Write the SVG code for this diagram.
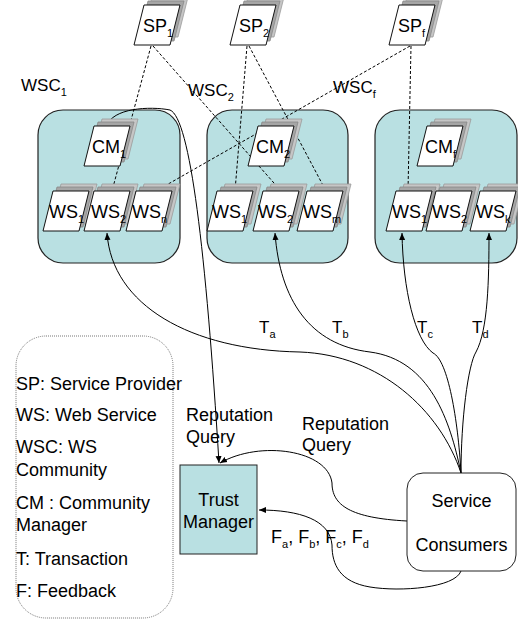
<svg xmlns="http://www.w3.org/2000/svg" width="518" height="625" viewBox="0 0 518 625">
<defs>
<style>
text{font-family:"Liberation Sans",Arial,sans-serif;fill:#000}
.t{font-size:18px}
.l{font-size:17px}
.s{font-size:11px}
.com{fill:#b9e0e2;stroke:#222;stroke-width:1.2}
.pg{fill:#fff;stroke:#111;stroke-width:1}
.sh1{fill:#a6a6a6;stroke:#888;stroke-width:0.8}
.sh2{fill:#c6c6c6;stroke:#9a9a9a;stroke-width:0.8}
.dash{fill:none;stroke:#000;stroke-width:1;stroke-dasharray:3,2}
.cur{fill:none;stroke:#000;stroke-width:1}
.arr{marker-end:url(#ah)}
</style>
<polygon id="pg" points="10,0 46,0 36,40 0,40"/>
<marker id="ah" markerWidth="8" markerHeight="8" refX="7" refY="4" orient="auto" markerUnits="userSpaceOnUse"><path d="M0,1 L7,4 L0,7 z" fill="#000"/></marker>
</defs>
<rect width="518" height="625" fill="#fff"/>

<!-- communities -->
<g id="wsc1"><rect class="com" x="38" y="110" width="142" height="153" rx="25"/><text x="21" y="91" class="l">WSC<tspan class="s" dy="5">1</tspan></text></g>
<g id="wsc2"><rect class="com" x="207" y="110" width="141" height="153" rx="25"/><text x="188" y="96" class="l">WSC<tspan class="s" dy="5">2</tspan></text></g>
<g id="wscf"><rect class="com" x="375" y="110" width="142" height="153" rx="25"/><text x="333" y="93" class="l">WSC<tspan class="s" dy="5">f</tspan></text></g>

<!-- legend -->
<g id="legend">
<rect x="16" y="336" width="157" height="282" rx="30" fill="none" stroke="#777" stroke-width="1" stroke-dasharray="1,1"/>
<text x="16" y="390" class="t">SP: Service Provider</text>
<text x="16" y="421" class="t">WS: Web Service</text>
<text x="16" y="453" class="t">WSC: WS</text>
<text x="16" y="476" class="t">Community</text>
<text x="16" y="509" class="t">CM : Community</text>
<text x="16" y="531" class="t">Manager</text>
<text x="16" y="565" class="t">T: Transaction</text>
<text x="16" y="597" class="t">F: Feedback</text>
</g>

<!-- connectors -->
<g id="connectors">
<line class="dash" x1="151" y1="46" x2="112" y2="191"/>
<line class="dash" x1="153" y1="46" x2="281" y2="191"/>
<line class="dash" x1="247" y1="46" x2="235" y2="191"/>
<line class="dash" x1="249" y1="46" x2="326" y2="191"/>
<line class="dash" x1="410" y1="46" x2="156" y2="191"/>
<line class="dash" x1="411" y1="46" x2="408" y2="191"/>
<path class="cur arr" d="M107,126 C112,108 150,106 170,110 C190,118 206,250 219,463"/>
<path class="cur arr" d="M461,473 C440,410 380,355 300,352 C190,350 112,305 107,233"/>
<path class="cur arr" d="M461,473 C450,420 430,360 370,352 C310,345 280,300 275,233"/>
<path class="cur arr" d="M461,473 C458,420 448,360 433,353 C415,340 403,290 402,233"/>
<path class="cur arr" d="M461,473 C461,420 468,365 476,352 C488,330 489,280 489,233"/>
<path class="cur arr" d="M407,521 C350,518 332,505 332,483 C328,450 260,440 220,463"/>
<path class="cur arr" d="M461,571 C455,588 400,592 370,587 C340,582 332,565 332,545 C330,520 300,510 259,510"/>
</g>

<!-- SP nodes -->
<g id="sp1"><use href="#pg" x="142" y="-3" class="sh2"/><use href="#pg" x="138" y="1" class="sh1"/><use href="#pg" x="134" y="5" class="pg"/><text x="143" y="32" class="t">SP<tspan class="s" dy="5">1</tspan></text></g>
<g id="sp2"><use href="#pg" x="238" y="-3" class="sh2"/><use href="#pg" x="234" y="1" class="sh1"/><use href="#pg" x="230" y="5" class="pg"/><text x="239" y="32" class="t">SP<tspan class="s" dy="5">2</tspan></text></g>
<g id="spf"><use href="#pg" x="397" y="-3" class="sh2"/><use href="#pg" x="393" y="1" class="sh1"/><use href="#pg" x="389" y="5" class="pg"/><text x="398" y="32" class="t">SP<tspan class="s" dy="5">f</tspan></text></g>

<!-- CM nodes -->
<g id="cm1"><use href="#pg" x="92" y="119" class="sh2"/><use href="#pg" x="88" y="122" class="sh1"/><use href="#pg" x="84" y="126" class="pg"/><text x="92" y="153" class="t">CM<tspan class="s" dy="5">1</tspan></text></g>
<g id="cm2"><use href="#pg" x="256" y="119" class="sh2"/><use href="#pg" x="252" y="122" class="sh1"/><use href="#pg" x="248" y="126" class="pg"/><text x="256" y="153" class="t">CM<tspan class="s" dy="5">2</tspan></text></g>
<g id="cmf"><use href="#pg" x="425" y="119" class="sh2"/><use href="#pg" x="421" y="122" class="sh1"/><use href="#pg" x="417" y="126" class="pg"/><text x="425" y="153" class="t">CM<tspan class="s" dy="5">f</tspan></text></g>

<!-- WS nodes WSC1 -->
<g id="ws1_1"><use href="#pg" x="51" y="184" class="sh2"/><use href="#pg" x="47" y="187" class="sh1"/><use href="#pg" x="43" y="191" class="pg"/><text x="49" y="218" class="t">WS<tspan class="s" dy="5">1</tspan></text></g>
<g id="ws1_2"><use href="#pg" x="92" y="184" class="sh2"/><use href="#pg" x="88" y="187" class="sh1"/><use href="#pg" x="84" y="191" class="pg"/><text x="91" y="218" class="t">WS<tspan class="s" dy="5">2</tspan></text></g>
<g id="ws1_n"><use href="#pg" x="134" y="184" class="sh2"/><use href="#pg" x="130" y="187" class="sh1"/><use href="#pg" x="126" y="191" class="pg"/><text x="132" y="218" class="t">WS<tspan class="s" dy="5">n</tspan></text></g>

<!-- WS nodes WSC2 -->
<g id="ws2_1"><use href="#pg" x="215" y="184" class="sh2"/><use href="#pg" x="211" y="187" class="sh1"/><use href="#pg" x="207" y="191" class="pg"/><text x="212" y="218" class="t">WS<tspan class="s" dy="5">1</tspan></text></g>
<g id="ws2_2"><use href="#pg" x="261" y="184" class="sh2"/><use href="#pg" x="257" y="187" class="sh1"/><use href="#pg" x="253" y="191" class="pg"/><text x="258" y="218" class="t">WS<tspan class="s" dy="5">2</tspan></text></g>
<g id="ws2_m"><use href="#pg" x="305" y="184" class="sh2"/><use href="#pg" x="301" y="187" class="sh1"/><use href="#pg" x="297" y="191" class="pg"/><text x="303" y="218" class="t">WS<tspan class="s" dy="5">m</tspan></text></g>

<!-- WS nodes WSCf -->
<g id="wsf_1"><use href="#pg" x="394" y="184" class="sh2"/><use href="#pg" x="390" y="187" class="sh1"/><use href="#pg" x="386" y="191" class="pg"/><text x="392" y="218" class="t">WS<tspan class="s" dy="5">1</tspan></text></g>
<g id="wsf_2"><use href="#pg" x="434" y="184" class="sh2"/><use href="#pg" x="430" y="187" class="sh1"/><use href="#pg" x="426" y="191" class="pg"/><text x="432" y="218" class="t">WS<tspan class="s" dy="5">2</tspan></text></g>
<g id="wsf_k"><use href="#pg" x="478" y="184" class="sh2"/><use href="#pg" x="474" y="187" class="sh1"/><use href="#pg" x="470" y="191" class="pg"/><text x="476" y="218" class="t">WS<tspan class="s" dy="5">k</tspan></text></g>

<!-- trust manager & consumers -->
<g id="trust"><rect x="180" y="465" width="77" height="89" fill="#b9e0e2" stroke="#222" stroke-width="1"/><text x="218.5" y="506" class="t" text-anchor="middle">Trust</text><text x="218.5" y="528" class="t" text-anchor="middle">Manager</text></g>
<g id="consumers"><rect x="407" y="473" width="109" height="98" rx="16" fill="#fff" stroke="#222" stroke-width="1"/><text x="461.5" y="507" class="t" text-anchor="middle">Service</text><text x="461.5" y="551" class="t" text-anchor="middle">Consumers</text></g>

<!-- labels -->
<g id="labels">
<text x="259" y="333" class="l">T<tspan class="s" dy="5">a</tspan></text>
<text x="332" y="333" class="l">T<tspan class="s" dy="5">b</tspan></text>
<text x="417" y="333" class="l">T<tspan class="s" dy="5">c</tspan></text>
<text x="472" y="333" class="l">T<tspan class="s" dy="5">d</tspan></text>
<text x="186" y="421" class="t">Reputation</text>
<text x="186" y="443" class="t">Query</text>
<text x="302" y="430" class="t">Reputation</text>
<text x="302" y="451" class="t">Query</text>
<text x="271" y="543" class="t">F<tspan class="s" dy="5">a</tspan><tspan dy="-5">, F</tspan><tspan class="s" dy="5">b</tspan><tspan dy="-5">, F</tspan><tspan class="s" dy="5">c</tspan><tspan dy="-5">, F</tspan><tspan class="s" dy="5">d</tspan></text>
</g>
</svg>
